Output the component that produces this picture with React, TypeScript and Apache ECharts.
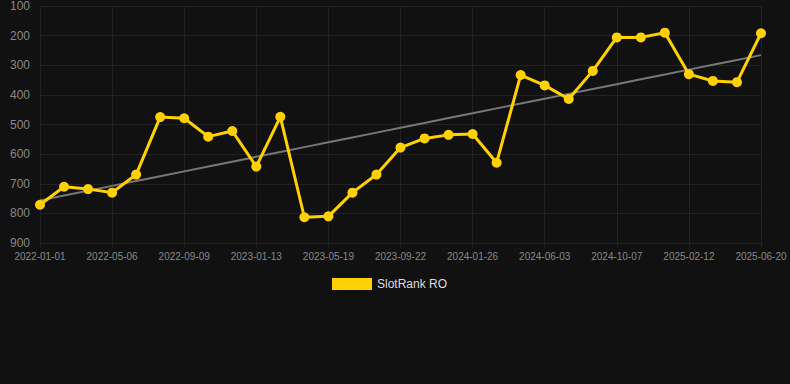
import React, { useEffect, useRef } from "react";
import * as echarts from "echarts";

const dates = [
  "2022-01-01", "2022-02-12", "2022-03-26", "2022-05-06", "2022-06-17", "2022-07-29",
  "2022-09-09", "2022-10-21", "2022-12-02", "2023-01-13", "2023-02-24", "2023-04-07",
  "2023-05-19", "2023-06-30", "2023-08-11", "2023-09-22", "2023-11-03", "2023-12-15",
  "2024-01-26", "2024-03-08", "2024-04-20", "2024-06-03", "2024-07-15", "2024-08-26",
  "2024-10-07", "2024-11-19", "2024-12-31", "2025-02-12", "2025-03-26", "2025-05-08",
  "2025-06-20",
];

const rankValues = [
  771, 710, 718, 730, 669, 475, 479, 541, 522, 642,
  474, 813, 810, 730, 669, 578, 547, 535, 532, 629,
  333, 368, 414, 319, 206, 206, 190, 330, 353, 357,
  192,
];

const yTicks = [100, 900];
const seriesName = "SlotRank RO";

function regression(vals: number[]): number[] {
  const n = vals.length;
  const mx = (n - 1) / 2;
  const my = vals.reduce((a, b) => a + b, 0) / n;
  let sxy = 0;
  let sxx = 0;
  vals.forEach((v, i) => {
    sxy += (i - mx) * (v - my);
    sxx += (i - mx) * (i - mx);
  });
  const slope = sxy / sxx;
  return vals.map((_, i) => Math.round((my + slope * (i - mx)) * 10) / 10);
}

export default function App() {
  const ref = useRef<HTMLDivElement>(null);
  useEffect(() => {
    if (!ref.current) return;
    const chart = echarts.init(ref.current, undefined, { renderer: "svg" });
    const trend = regression(rankValues);
    chart.setOption({
      animation: false,
      backgroundColor: "#111111",
      grid: { left: 40, right: 29, top: 6, bottom: 141, containLabel: false },
      legend: {
        data: [{ name: seriesName, icon: "rect" }],
        top: 273,
        left: 327,
        itemWidth: 40,
        itemHeight: 12,
        itemGap: 10,
        textStyle: { color: "#dddddd", fontSize: 12, fontFamily: "Arial, Liberation Sans, sans-serif" },
      },
      xAxis: {
        type: "category",
        data: dates,
        boundaryGap: false,
        axisLine: { show: false },
        axisTick: { show: true, interval: 2, lineStyle: { color: "#222" }, length: 4 },
        axisLabel: {
          interval: 2,
          color: "#888888",
          fontSize: 10,
          margin: 8,
          fontFamily: "Arial, Liberation Sans, sans-serif",
        },
        splitLine: { show: true, interval: 2, lineStyle: { color: "#222222", width: 1 } },
      },
      yAxis: {
        type: "value",
        inverse: true,
        min: yTicks[0],
        max: yTicks[1],
        interval: 100,
        axisLine: { show: false },
        axisTick: { show: false },
        axisLabel: {
          color: "#888888",
          fontSize: 12,
          margin: 10,
          fontFamily: "Arial, Liberation Sans, sans-serif",
        },
        splitLine: { lineStyle: { color: "#222222", width: 1 } },
      },
      series: [
        {
          name: seriesName,
          type: "line",
          data: rankValues,
          itemStyle: { color: "#FFD100" },
          lineStyle: { color: "#FFD100", width: 3 },
          symbol: "circle",
          symbolSize: 10,
          z: 3,
        },
        {
          name: "trend",
          type: "line",
          data: trend,
          symbol: "none",
          lineStyle: { color: "#777777", width: 2 },
          itemStyle: { color: "#777777" },
          z: 2,
        },
      ],
    });
    return () => chart.dispose();
  }, []);
  return (
    <div
      ref={ref}
      style={{ position: "fixed", left: 0, top: 0, width: 790, height: 384 }}
    />
  );
}
